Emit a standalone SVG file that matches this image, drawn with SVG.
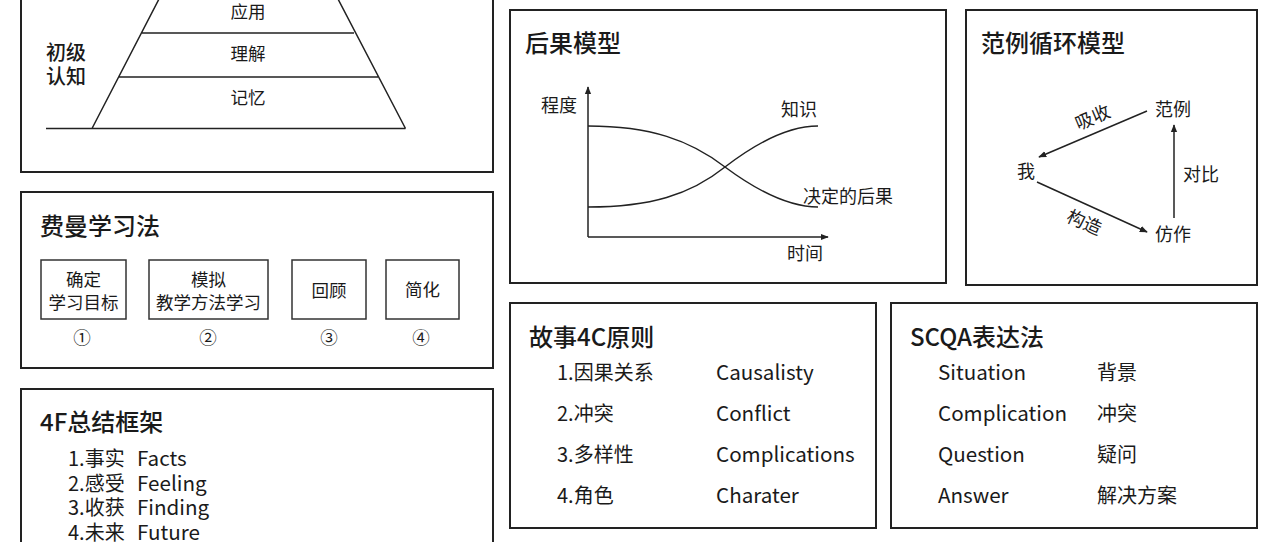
<svg xmlns="http://www.w3.org/2000/svg" width="1280" height="542" viewBox="0 0 1280 542">
<style>
text{font-family:"Noto Sans CJK SC","Noto Sans",sans-serif;fill:#1a1a1a;dominant-baseline:central}
.panel{fill:none;stroke:#222;stroke-width:2}
.box{fill:none;stroke:#333;stroke-width:1.5}
.ln{fill:none;stroke:#222;stroke-width:1.5}
.title{font-size:24px;font-weight:500}
.t18{font-size:18px}
.t17{font-size:17.5px}
.t20{font-size:20px}
.lat{font-size:20.6px}
.mid{text-anchor:middle}
</style>
<defs>
<marker id="ah" viewBox="0 0 10 10" refX="9" refY="5" markerWidth="8" markerHeight="8" markerUnits="userSpaceOnUse" orient="auto">
<path d="M0,1 L10,5 L0,9 Z" fill="#222"/>
</marker>
</defs>
<rect width="1280" height="542" fill="#fff"/>

<g id="pyramid">
<rect class="panel" x="21" y="-10" width="472" height="182"/>
<path class="ln" d="M46,128.5 H405.5 M92,128.5 L159,-1 M405.5,128.5 L338,-1 M142,33 H354 M119,77 H378"/>
<text class="t17 mid" x="248" y="10">应用</text>
<text class="t17 mid" x="248" y="52">理解</text>
<text class="t17 mid" x="248" y="96">记忆</text>
<text class="t20" x="46" y="51" font-weight="500">初级</text>
<text class="t20" x="46" y="75" font-weight="500">认知</text>
</g>

<g id="feynman">
<rect class="panel" x="21" y="192" width="472" height="176"/>
<text class="title" x="40" y="224">费曼学习法</text>
<rect class="box" x="41" y="260" width="85" height="59"/>
<text class="t17 mid" x="83.5" y="278">确定</text>
<text class="t17 mid" x="83.5" y="301">学习目标</text>
<rect class="box" x="149" y="260" width="119" height="59"/>
<text class="t17 mid" x="208.5" y="278">模拟</text>
<text class="t17 mid" x="208.5" y="301">教学方法学习</text>
<rect class="box" x="292" y="260" width="74" height="59"/>
<text class="t17 mid" x="329" y="289">回顾</text>
<rect class="box" x="386" y="260" width="73" height="59"/>
<text class="t17 mid" x="422.5" y="288">简化</text>
<text class="t17 mid" x="82" y="336">①</text>
<text class="t17 mid" x="208" y="336">②</text>
<text class="t17 mid" x="329" y="336">③</text>
<text class="t17 mid" x="421" y="336">④</text>
</g>

<g id="fourF">
<rect class="panel" x="21" y="389" width="472" height="170"/>
<text class="title" x="40" y="420">4F总结框架</text>
<text class="t20" x="68" y="457">1.事实</text><text class="lat" x="137" y="457">Facts</text>
<text class="t20" x="68" y="482">2.感受</text><text class="lat" x="137" y="482">Feeling</text>
<text class="t20" x="68" y="506">3.收获</text><text class="lat" x="137" y="506">Finding</text>
<text class="t20" x="68" y="531">4.未来</text><text class="lat" x="137" y="531">Future</text>
</g>

<g id="consequence">
<rect class="panel" x="510" y="10" width="436" height="273"/>
<text class="title" x="525" y="41">后果模型</text>
<text class="t18" x="541" y="104">程度</text>
<text class="t18" x="781" y="108">知识</text>
<text class="t18" x="803" y="195">决定的后果</text>
<text class="t18" x="787" y="252">时间</text>
</g>

<g id="cycle">
<rect class="panel" x="966" y="10" width="291" height="275"/>
<text class="title" x="981" y="41">范例循环模型</text>
<text class="t18 mid" x="1173" y="108">范例</text>
<text class="t18 mid" x="1026" y="170">我</text>
<text class="t18 mid" x="1173" y="233">仿作</text>
<text class="t18 mid" transform="translate(1092,116) rotate(-23)">吸收</text>
<text class="t18 mid" transform="translate(1085,221) rotate(24)">构造</text>
<text class="t18" x="1183" y="173">对比</text>
</g>

<g id="story4c">
<rect class="panel" x="510" y="303" width="366" height="225"/>
<text class="title" x="529" y="335">故事4C原则</text>
<text class="t20" x="557" y="371">1.因果关系</text><text class="lat" x="716" y="371">Causalisty</text>
<text class="t20" x="557" y="412">2.冲突</text><text class="lat" x="716" y="412">Conflict</text>
<text class="t20" x="557" y="453">3.多样性</text><text class="lat" x="716" y="453">Complications</text>
<text class="t20" x="557" y="494">4.角色</text><text class="lat" x="716" y="494">Charater</text>
</g>

<g id="scqa">
<rect class="panel" x="891" y="303" width="366" height="225"/>
<text class="title" x="910" y="335">SCQA表达法</text>
<text class="lat" x="938" y="371">Situation</text><text class="t20" x="1097" y="371">背景</text>
<text class="lat" x="938" y="412">Complication</text><text class="t20" x="1097" y="412">冲突</text>
<text class="lat" x="938" y="453">Question</text><text class="t20" x="1097" y="453">疑问</text>
<text class="lat" x="938" y="494">Answer</text><text class="t20" x="1097" y="494">解决方案</text>
</g>

<g id="connectors">
<path class="ln" d="M588,237 V87" marker-end="url(#ah)"/>
<path class="ln" d="M588,237 H828" marker-end="url(#ah)"/>
<path class="ln" d="M588,126 C650,126 690,140 725,167 C760,193 790,207 818,207"/>
<path class="ln" d="M588,207 C650,207 690,195 725,167 C760,140 790,126 818,126"/>
<path class="ln" d="M1147,111 L1039,157" marker-end="url(#ah)"/>
<path class="ln" d="M1037,182 L1147,232" marker-end="url(#ah)"/>
<path class="ln" d="M1174,218 V125" marker-end="url(#ah)"/>
</g>
</svg>
